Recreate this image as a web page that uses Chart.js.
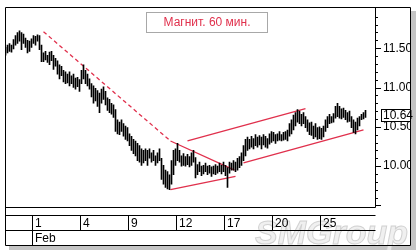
<!DOCTYPE html>
<html lang="ru">
  <head>
    <meta charset="UTF-8" />
    <title>Магнит. 60 мин.</title>
    <script src="https://cdn.jsdelivr.net/npm/chart.js"></script>
    <style>
      body {
        margin: 0;
        background: #fff;
      }
      .wrap {
        width: 417px;
        height: 250px;
      }
    </style>
  </head>
  <body>
    <div class="wrap">
      <canvas id="priceChart"></canvas>
    </div>

    <script>
      // hourly bars, high / low
      const highs = [
        11.51, 11.54, 11.56, 11.54, 11.61, 11.66, 11.7, 11.72, 11.7, 11.68,
        11.63, 11.6, 11.59, 11.62, 11.66, 11.65, 11.67, 11.66, 11.54, 11.44,
        11.46, 11.41, 11.45, 11.46, 11.41, 11.37, 11.34, 11.29, 11.27, 11.22,
        11.2, 11.17, 11.2, 11.15, 11.17, 11.12, 11.13, 11.1, 11.22, 11.29,
        11.22, 11.17, 11.11, 11.05, 11.02, 10.99, 10.96, 10.93, 10.98, 11.01,
        10.95, 10.87, 10.85, 10.8, 10.78, 10.72, 10.59, 10.56, 10.59, 10.54,
        10.51, 10.49, 10.41, 10.38, 10.34, 10.32, 10.29, 10.26, 10.22, 10.2,
        10.22, 10.2, 10.22, 10.17, 10.2, 10.13, 10.17, 10.22, 10.1, 10.01,
        9.95, 9.93, 9.89, 10.07, 10.2, 10.22, 10.29, 10.2, 10.13, 10.16,
        10.12, 10.15, 10.12, 10.17, 10.2, 10.11, 10.02, 10.05, 10.0, 10.01,
        10.04, 10.0, 10.01, 9.99, 10.0, 10.02, 10.0, 10.04, 10.01, 10.05,
        10.01, 9.98, 10.05, 10.04, 10.07, 10.05, 10.1, 10.12, 10.17, 10.26,
        10.34, 10.37, 10.34, 10.38, 10.35, 10.4, 10.37, 10.39, 10.37, 10.4,
        10.38, 10.35, 10.41, 10.44, 10.43, 10.4, 10.41, 10.44, 10.4, 10.43,
        10.44, 10.46, 10.54, 10.59, 10.65, 10.68, 10.72, 10.7, 10.66, 10.68,
        10.63, 10.59, 10.55, 10.56, 10.51, 10.54, 10.49, 10.5, 10.48, 10.51,
        10.59, 10.63, 10.66, 10.63, 10.67, 10.76, 10.8, 10.76, 10.73, 10.74,
        10.71, 10.68, 10.7, 10.63, 10.59, 10.56, 10.61, 10.63, 10.66, 10.68,
        10.71,
      ];
      const lows = [
        11.41, 11.44, 11.46, 11.45, 11.49, 11.54, 11.56, 11.59, 11.48, 11.56,
        11.51, 11.44, 11.46, 11.51, 11.56, 11.54, 11.59, 11.48, 11.33, 11.33,
        11.35, 11.32, 11.29, 11.34, 11.23, 11.27, 11.17, 11.11, 11.15, 11.07,
        11.05, 11.06, 11.02, 11.05, 11.0, 10.98, 11.01, 10.95, 11.05, 11.11,
        11.05, 11.02, 10.98, 10.88, 10.8, 10.83, 10.76, 10.68, 10.8, 10.85,
        10.78, 10.71, 10.68, 10.66, 10.62, 10.44, 10.41, 10.4, 10.44, 10.38,
        10.34, 10.32, 10.26, 10.2, 10.16, 10.13, 10.07, 10.05, 10.01, 10.04,
        10.07, 10.01, 10.1, 10.05, 10.07, 10.01, 10.04, 10.07, 9.83, 9.77,
        9.73, 9.71, 9.7, 9.77, 9.89, 10.01, 10.07, 10.05, 10.0, 10.01,
        10.0, 10.02, 9.99, 10.01, 10.05, 9.85, 9.89, 9.93, 9.88, 9.9,
        9.93, 9.89, 9.91, 9.87, 9.9, 9.89, 9.91, 9.93, 9.9, 9.93,
        9.88, 9.73, 9.91, 9.95, 9.95, 9.93, 9.95, 9.98, 10.01, 10.07,
        10.13, 10.2, 10.22, 10.24, 10.22, 10.26, 10.24, 10.27, 10.22, 10.27,
        10.24, 10.23, 10.28, 10.3, 10.32, 10.29, 10.32, 10.33, 10.32, 10.33,
        10.34, 10.32, 10.38, 10.41, 10.46, 10.51, 10.56, 10.54, 10.51, 10.54,
        10.49, 10.44, 10.4, 10.39, 10.35, 10.37, 10.34, 10.35, 10.34, 10.37,
        10.44, 10.49, 10.54, 10.55, 10.56, 10.61, 10.63, 10.61, 10.6, 10.62,
        10.59, 10.56, 10.57, 10.49, 10.43, 10.41, 10.46, 10.51, 10.59, 10.6,
        10.62,
      ];
      const lastPrice = 10.64;

      // date row: bar index where each labelled day starts
      const dayLabels = ["1", "4", "9", "12", "17", "20", "25"];
      const dayStarts = [14, 38, 62, 86, 110, 134, 158];
      const monthLabel = "Feb";

      // trend lines, [bar index, price]
      const downDashed = [[19, 11.71], [82.5, 10.32]];
      const downSolid = [[82.5, 10.32], [114.5, 9.95]];
      const lowerLeft = [[82.5, 9.7], [115, 9.87]];
      const channelTop = [[91, 10.32], [150, 10.73]];
      const channelBottom = [[119, 10.04], [179, 10.46]];

      const red = "#e0304c";
      const toXY = (pts) => pts.map((p) => ({ x: p[0], y: p[1] }));
      const trend = (pts, dash) => ({
        type: "line",
        data: toXY(pts),
        borderColor: red,
        borderWidth: 1.3,
        borderDash: dash || [],
        pointRadius: 0,
      });

      // frame, date rows, axis ticks, caption and watermark
      const decor = {
        id: "decor",
        beforeDraw(chart) {
          const c = chart.ctx;
          c.save();
          c.fillStyle = "#c4c4c4";
          c.fillRect(411, 11, 5, 239);
          c.fillRect(9, 246, 407, 4);
          c.font = "italic bold 34px 'Liberation Sans'";
          c.strokeStyle = "rgba(200,200,200,0.8)";
          c.fillStyle = "rgba(236,236,236,0.8)";
          c.textBaseline = "alphabetic";
          c.fillText("SMGroup", 255, 244);
          c.strokeText("SMGroup", 255, 244);
          c.restore();
        },
        afterDraw(chart) {
          const c = chart.ctx;
          const a = chart.chartArea;
          const xs = chart.scales.x;
          const ys = chart.scales.y;
          c.save();
          c.strokeStyle = "#000";
          c.lineWidth = 1;
          c.beginPath();
          // outer frame
          c.moveTo(5.5, 7.5);
          c.lineTo(410.5, 7.5);
          c.lineTo(410.5, 245.5);
          c.lineTo(5.5, 245.5);
          c.lineTo(5.5, 7.5);
          // plot box
          c.moveTo(a.right + 0.5, 7.5);
          c.lineTo(a.right + 0.5, Math.round(a.bottom) + 0.5);
          c.lineTo(5.5, Math.round(a.bottom) + 0.5);
          // date rows
          c.moveTo(5.5, 215.5);
          c.lineTo(a.right + 0.5, 215.5);
          c.moveTo(5.5, 230.5);
          c.lineTo(a.right + 0.5, 230.5);
          dayStarts.forEach((d) => {
            const x = Math.round(xs.getPixelForValue(d - 0.75)) + 0.5;
            c.moveTo(x, 215.5);
            c.lineTo(x, 230.5);
          });
          const x0 = Math.round(xs.getPixelForValue(dayStarts[0] - 0.75)) + 0.5;
          c.moveTo(x0, 230.5);
          c.lineTo(x0, 245.5);
          // y axis tick marks
          ys.ticks.forEach((t) => {
            const y = Math.round(ys.getPixelForValue(t.value)) + 0.5;
            const major = Math.abs(t.value * 2 - Math.round(t.value * 2)) < 1e-6;
            c.moveTo(a.right, y);
            c.lineTo(a.right + (major ? 6 : 3), y);
          });
          c.stroke();

          c.font = "12px 'Liberation Sans'";
          c.fillStyle = "#000";
          c.textBaseline = "middle";
          dayStarts.forEach((d, i) => {
            const x = Math.round(xs.getPixelForValue(d - 0.75));
            c.fillText(dayLabels[i], x + 3, 223.5);
          });
          c.fillText(monthLabel, x0 + 2.5, 238.5);

          // last price box
          const py = Math.round(ys.getPixelForValue(lastPrice));
          c.fillStyle = "#fff";
          c.fillRect(381, py - 6, 30, 12);
          c.strokeRect(381.5, py - 6.5, 29, 12);
          c.fillStyle = "#000";
          c.fillText(lastPrice.toFixed(2), 383, py);

          // caption
          c.strokeStyle = "#a8a8a8";
          c.strokeRect(146.5, 12.5, 121, 20);
          c.fillStyle = red;
          c.textAlign = "center";
          c.fillText("Магнит. 60 мин.", 207, 23);
          c.restore();
        },
      };

      new Chart(document.getElementById("priceChart"), {
        type: "bar",
        data: {
          datasets: [
            {
              data: highs.map((h, i) => ({ x: i, y: [lows[i], h] })),
              backgroundColor: "#000",
              barThickness: 1,
              grouped: false,
            },
            trend(downDashed, [4, 3]),
            trend(downSolid),
            trend(lowerLeft),
            trend(channelTop),
            trend(channelBottom),
          ],
        },
        options: {
          responsive: true,
          maintainAspectRatio: false,
          animation: false,
          layout: {
            padding: { left: 5, top: 7, right: 6, bottom: 43 },
          },
          plugins: {
            legend: { display: false },
            tooltip: { enabled: false },
          },
          scales: {
            x: {
              type: "linear",
              min: -0.25,
              max: 184.75,
              offset: false,
              display: false,
            },
            y: {
              position: "right",
              min: 9.48,
              max: 11.92,
              afterFit(scale) {
                scale.width = 36;
              },
              grid: { display: false, drawTicks: false },
              border: { display: false },
              ticks: {
                stepSize: 0.1,
                includeBounds: false,
                autoSkip: false,
                padding: 8,
                color: "#000",
                font: { family: "Liberation Sans", size: 12 },
                callback: (v) =>
                  v >= 9.9 && Math.abs(v * 2 - Math.round(v * 2)) < 1e-6
                    ? v.toFixed(2)
                    : "",
              },
            },
          },
        },
        plugins: [decor],
      });
    </script>
  </body>
</html>
